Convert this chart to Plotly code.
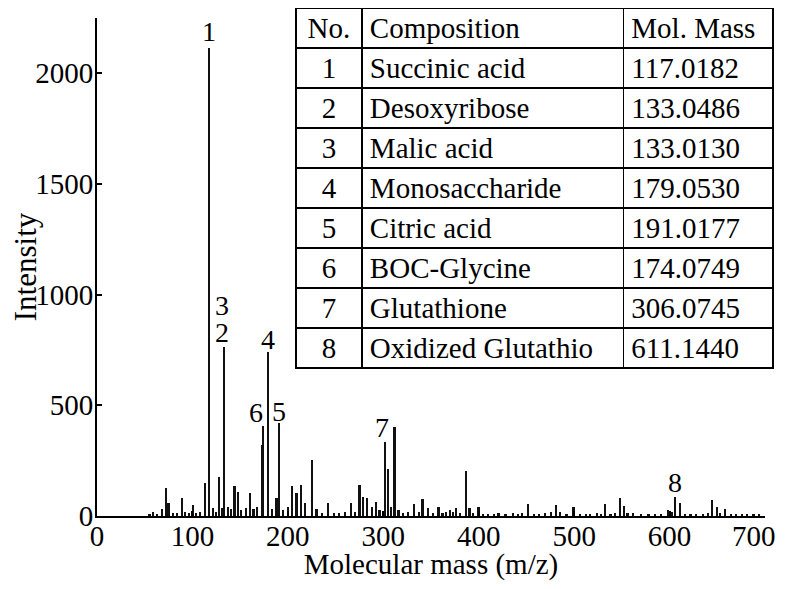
import plotly.graph_objects as go

# spectrum peaks
mz = [55, 58.7, 63, 68, 72.7, 75, 80, 84, 88.8, 92, 96, 100.3, 104, 108, 113, 117,
      121.6, 125, 128, 131, 133, 137, 140, 144, 147.4, 151, 156, 160.4, 164, 168,
      172.6, 174.3, 179, 183, 188, 190.8, 195, 200, 204, 209, 214, 218, 225, 230,
      236, 242, 248, 254, 260, 266, 270, 275, 279, 283, 288, 292, 296, 302, 305,
      308, 311.7, 316, 321, 326, 332, 337, 341, 347, 352, 357.8, 362, 366, 370,
      373, 376.3, 380, 386.8, 390.3, 394, 399.7, 404.6, 410, 416, 420.7, 428, 436,
      441, 445, 451.4, 458, 463, 469.6, 476, 481, 485, 492, 499.3, 506, 512, 517,
      523.7, 528, 532.5, 538, 543, 548.3, 551.9, 556, 562, 570, 578, 585, 591,
      598.5, 602, 606, 611, 616, 622, 628, 635, 640, 644.3, 649.5, 653, 658, 664,
      670, 676, 681, 688, 694]
intensity = [8, 20, 10, 30, 125, 60, 12, 15, 80, 20, 15, 50, 15, 20, 150, 2113,
             38, 20, 178, 35, 765, 40, 30, 137, 108, 25, 38, 104, 30, 40,
             320, 407, 742, 30, 80, 420, 25, 40, 136, 104, 140, 60, 253, 30,
             15, 58, 15, 15, 20, 60, 20, 140, 86, 80, 40, 63, 25, 335, 213,
             40, 403, 25, 15, 20, 54, 20, 77, 36, 15, 42, 15, 20, 27,
             20, 36, 15, 203, 36, 15, 42, 10, 8, 8, 12, 8, 12,
             8, 15, 54, 10, 8, 15, 20, 48, 20, 8, 42, 8, 10, 8,
             15, 10, 54, 10, 15, 80, 45, 15, 12, 8, 8, 10, 8,
             25, 20, 85, 60, 10, 8, 8, 8, 15, 72, 40, 15, 30, 8,
             8, 8, 8, 8, 5]

# peak labels
label_text = ['1', '3', '2', '4', '6', '5', '7', '8']
label_mz = [117, 133, 133, 179, 174.3, 190.8, 302, 606]
label_int = [2113, 765, 765, 742, 407, 420, 335, 85]

# axis ticks
x_ticks = [0, 100, 200, 300, 400, 500, 600, 700]
y_ticks = [0, 500, 1000, 1500, 2000]

# table
tab_no = ['1', '2', '3', '4', '5', '6', '7', '8']
tab_comp = ['Succinic acid', 'Desoxyribose', 'Malic acid', 'Monosaccharide',
            'Citric acid', 'BOC-Glycine', 'Glutathione', 'Oxidized Glutathio']
tab_mass = ['117.0182', '133.0486', '133.0130', '179.0530',
            '191.0177', '174.0749', '306.0745', '611.1440']

FONT = 'Liberation Serif, Times New Roman, serif'

fig = go.Figure()

fig.add_trace(go.Bar(x=mz, y=intensity, width=2.3,
                     marker=dict(color='#111', line=dict(width=0)),
                     showlegend=False))

fig.add_trace(go.Table(
    domain=dict(x=[0.2922, 0.9941], y=[0.285, 1.0]),
    columnwidth=[66, 262, 150],
    header=dict(values=['No.', 'Composition', 'Mol. Mass'],
                align=['center', 'left', 'left'],
                height=40,
                line=dict(color='black', width=1.5),
                fill=dict(color='white'),
                font=dict(family=FONT, size=29, color='black')),
    cells=dict(values=[tab_no, tab_comp, tab_mass],
               align=['center', 'left', 'left'],
               height=40,
               line=dict(color='black', width=1.5),
               fill=dict(color='white'),
               font=dict(family=FONT, size=29, color='black')),
))

shifts = {'3': (-2, 24), '2': (-2, -3), '4': (0, -5), '6': (-7, -4),
          '5': (0, -6), '7': (-3, -3), '8': (0, -3), '1': (0, -1)}
for t, x, y in zip(label_text, label_mz, label_int):
    dx, dy = shifts.get(t, (0, 0))
    fig.add_annotation(x=x, y=y, text=t, showarrow=False,
                       xanchor='center', yanchor='bottom',
                       xshift=dx, yshift=dy,
                       font=dict(family=FONT, size=28, color='black'))

# last x tick label would run past the window edge, pin it right-aligned
tick_text = [str(v) for v in x_ticks]
last_label = tick_text[-1]
tick_text[-1] = ''
fig.add_annotation(x=x_ticks[-1], y=0, text=last_label, showarrow=False,
                   xanchor='right', yanchor='top', xshift=13, yshift=-2,
                   font=dict(family=FONT, size=29, color='black'))

# page body adds an 8px margin, keep the figure inside the window
fig.update_layout(
    width=770, height=573,
    margin=dict(l=89, r=0, t=0, b=65),
    plot_bgcolor='white', paper_bgcolor='white',
    bargap=0,
    font=dict(family=FONT, size=29, color='black'),
    xaxis=dict(range=[0, 700], domain=[0, 668 / 681], automargin=False,
               tickvals=x_ticks, ticktext=tick_text,
               ticks='inside', ticklen=5, tickwidth=1.5, tickcolor='black',
               ticklabelstandoff=-7,
               showline=True, linecolor='black', linewidth=2,
               showgrid=False, zeroline=False,
               title=dict(text='Molecular mass (m/z)', standoff=5,
                          font=dict(family=FONT, size=29))),
    yaxis=dict(range=[0, 2250], domain=[0, 498 / 508], automargin=False,
               tickvals=y_ticks,
               ticks='inside', ticklen=5, tickwidth=1.5, tickcolor='black',
               ticklabelstandoff=-4, ticklabeloverflow='allow',
               showline=True, linecolor='black', linewidth=2,
               showgrid=False, zeroline=False,
               title=dict(text='Intensity', standoff=14,
                          font=dict(family=FONT, size=31))),
)

fig.write_html("out.html")
